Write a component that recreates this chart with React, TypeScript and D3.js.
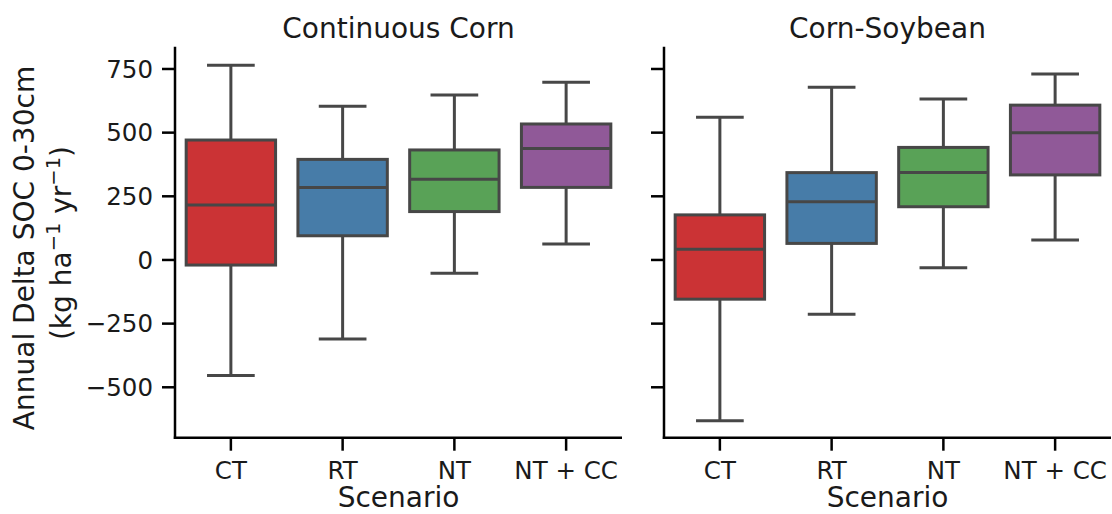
import React from "react";
import * as d3 from "d3";

// scenarios on the x axis
const scenarios = ["CT", "RT", "NT", "NT + CC"];
const panelTitles = ["Continuous Corn", "Corn-Soybean"];

// box stats, one array per stat, per panel
const ccLow = [-454, -310, -52, 63];
const ccQ1 = [-20, 95, 190, 285];
const ccMed = [216, 285, 317, 438];
const ccQ3 = [471, 395, 432, 534];
const ccHigh = [765, 604, 648, 698];

const csLow = [-631, -213, -31, 78];
const csQ1 = [-154, 65, 209, 334];
const csMed = [42, 229, 343, 500];
const csQ3 = [177, 343, 442, 608];
const csHigh = [560, 678, 632, 730];

const yTicks = [-500, -250, 0, 250, 500, 750];

// Set1 colors desaturated like seaborn does
const colors = ["#cb3335", "#477ca8", "#59a257", "#905998"];
const lineGray = "#474747";
const font = "DejaVu Sans";

export default function App() {
  const width = 1112;
  const height = 514;
  const top = 46.7;
  const bottom = 437.7;

  const y = d3.scaleLinear().domain([-698, 837.5]).range([bottom, top]);

  const panels = [
    { left: 175, title: panelTitles[0], low: ccLow, q1: ccQ1, med: ccMed, q3: ccQ3, high: ccHigh, labels: true },
    { left: 664, title: panelTitles[1], low: csLow, q1: csQ1, med: csMed, q3: csQ3, high: csHigh, labels: false },
  ];
  const panelWidth = 447;

  return (
    <svg
      width={width}
      height={height}
      style={{ position: "absolute", left: 0, top: 0, background: "white" }}
      fontFamily={font}
    >
      {panels.map((p, pi) => {
        const x = d3.scaleBand().domain(scenarios).range([p.left, p.left + panelWidth]).padding(0);
        const bw = x.bandwidth();
        const boxW = bw * 0.8;
        const capW = boxW / 2;
        return (
          <g key={pi}>
            {/* boxes */}
            {scenarios.map((s, i) => {
              const cx = x(s)! + bw / 2;
              return (
                <g key={s}>
                  <line x1={cx} x2={cx} y1={y(p.high[i])} y2={y(p.q3[i])} stroke={lineGray} strokeWidth={3} />
                  <line x1={cx} x2={cx} y1={y(p.q1[i])} y2={y(p.low[i])} stroke={lineGray} strokeWidth={3} />
                  <line x1={cx - capW / 2} x2={cx + capW / 2} y1={y(p.high[i])} y2={y(p.high[i])} stroke={lineGray} strokeWidth={3} strokeLinecap="square" />
                  <line x1={cx - capW / 2} x2={cx + capW / 2} y1={y(p.low[i])} y2={y(p.low[i])} stroke={lineGray} strokeWidth={3} strokeLinecap="square" />
                  <rect
                    x={cx - boxW / 2}
                    y={y(p.q3[i])}
                    width={boxW}
                    height={y(p.q1[i]) - y(p.q3[i])}
                    fill={colors[i]}
                    stroke={lineGray}
                    strokeWidth={3}
                  />
                  <line x1={cx - boxW / 2} x2={cx + boxW / 2} y1={y(p.med[i])} y2={y(p.med[i])} stroke={lineGray} strokeWidth={3} />
                </g>
              );
            })}

            {/* y axis */}
            <line x1={p.left} x2={p.left} y1={top} y2={bottom + 1.2} stroke="black" strokeWidth={2.5} />
            {yTicks.map((t) => (
              <g key={t}>
                <line x1={p.left - 13} x2={p.left} y1={y(t)} y2={y(t)} stroke="black" strokeWidth={2.5} />
                {p.labels && (
                  <text x={p.left - 22} y={y(t)} dy="0.36em" textAnchor="end" fontSize={24.5} fill="#1a1a1a">
                    {t < 0 ? "\u2212" + Math.abs(t) : t}
                  </text>
                )}
              </g>
            ))}

            {/* x axis */}
            <line x1={p.left - 1.2} x2={p.left + panelWidth} y1={bottom} y2={bottom} stroke="black" strokeWidth={2.5} />
            {scenarios.map((s) => {
              const cx = x(s)! + bw / 2;
              return (
                <g key={s}>
                  <line x1={cx} x2={cx} y1={bottom} y2={bottom + 13} stroke="black" strokeWidth={2.5} />
                  <text x={cx} y={479} textAnchor="middle" fontSize={24.5} fill="#1a1a1a">
                    {s}
                  </text>
                </g>
              );
            })}
            <text x={p.left + panelWidth / 2} y={507} textAnchor="middle" fontSize={28} fill="#1a1a1a">
              Scenario
            </text>

            {/* title */}
            <text x={p.left + panelWidth / 2} y={38} textAnchor="middle" fontSize={28} fill="#1a1a1a">
              {p.title}
            </text>
          </g>
        );
      })}

      {/* y label, two lines */}
      <text transform="translate(33.5, 248) rotate(-90)" textAnchor="middle" fontSize={28} fill="#1a1a1a">
        Annual Delta SOC 0-30cm
      </text>
      <text transform="translate(71, 243) rotate(-90)" textAnchor="middle" fontSize={28} fill="#1a1a1a">
        (kg ha
        <tspan fontSize={19.5} dy={-11}>{"\u22121"}</tspan>
        <tspan dy={11}> yr</tspan>
        <tspan fontSize={19.5} dy={-11}>{"\u22121"}</tspan>
        <tspan dy={11}>)</tspan>
      </text>
    </svg>
  );
}
